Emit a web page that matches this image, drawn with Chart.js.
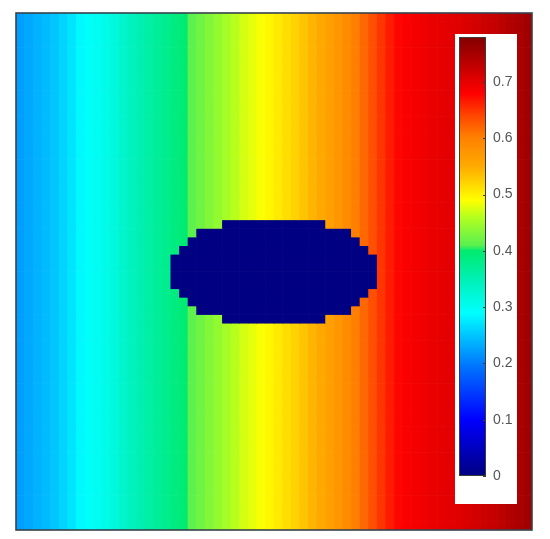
<!DOCTYPE html>
<html>
<head>
<meta charset="utf-8">
<script src="https://cdn.jsdelivr.net/npm/chart.js@4.4.0/dist/chart.umd.min.js"></script>
<style>
  html, body { margin: 0; padding: 0; background: #fff; }
  #wrap { position: relative; width: 550px; height: 539px; }
  #field { position: absolute; left: 0; top: 0; }
  #cbar { position: absolute; left: 455px; top: 34px; background: #fff; }
</style>
</head>
<body>
<div id="wrap">
  <canvas id="field" width="550" height="539"></canvas>
  <canvas id="cbar" width="62" height="470"></canvas>
</div>
<script>
// value of each column (left -> right)
const colValues = [
  0.224, 0.230, 0.237, 0.243, 0.250, 0.260, 0.272, 0.285, 0.293, 0.300,
  0.308, 0.318, 0.330, 0.341, 0.352, 0.361, 0.370, 0.378, 0.387, 0.396,
  0.412, 0.422, 0.432, 0.442, 0.452, 0.462, 0.472, 0.480, 0.488, 0.496,
  0.505, 0.514, 0.522, 0.532, 0.542, 0.552, 0.563, 0.575, 0.588, 0.602,
  0.618, 0.634, 0.650, 0.665, 0.677, 0.684, 0.688, 0.692, 0.696, 0.699,
  0.702, 0.706, 0.710, 0.715, 0.720, 0.726, 0.733, 0.741, 0.748, 0.755
];
const rowCount = 60;

// zero-valued blob: row index -> [first column, last column]
const holeRows = [24, 25, 26, 27, 28, 29, 30, 31, 32, 33, 34, 35];
const holeStart = [24, 21, 20, 19, 18, 18, 18, 18, 19, 20, 21, 24];
const holeEnd   = [35, 38, 39, 40, 41, 41, 41, 41, 40, 39, 38, 35];

// colour scale
const cbMax = 0.78;
const cbTicks = [0, 0.1, 0.2, 0.3, 0.4, 0.5, 0.6, 0.7];
const cbTickLabels = ['0', '0.1', '0.2', '0.3', '0.4', '0.5', '0.6', '0.7'];
const cmapValues = [0, 0.10, 0.19, 0.29, 0.35, 0.40, 0.41, 0.46, 0.49, 0.55, 0.60, 0.64, 0.68, 0.78];
const cmapColors = [
  [0, 0, 130], [0, 0, 255], [0, 110, 255], [0, 255, 255], [0, 240, 180], [0, 235, 110],
  [90, 240, 80], [180, 255, 30], [255, 255, 0], [255, 170, 0], [255, 130, 0], [255, 70, 0],
  [255, 0, 0], [130, 0, 0]
];

function rgb(c) { return 'rgb(' + c.map(Math.round).join(',') + ')'; }

function colorFor(v) {
  if (v <= cmapValues[0]) return rgb(cmapColors[0]);
  for (let i = 1; i < cmapValues.length; i++) {
    if (v <= cmapValues[i]) {
      const t = (v - cmapValues[i - 1]) / (cmapValues[i] - cmapValues[i - 1]);
      const a = cmapColors[i - 1], b = cmapColors[i];
      return rgb([a[0] + (b[0] - a[0]) * t, a[1] + (b[1] - a[1]) * t, a[2] + (b[2] - a[2]) * t]);
    }
  }
  return rgb(cmapColors[cmapColors.length - 1]);
}

function cellValue(row, col) {
  const k = holeRows.indexOf(row);
  if (k >= 0 && col >= holeStart[k] && col <= holeEnd[k]) return 0;
  return colValues[col];
}

// one stacked dataset per row of cells
const datasets = [];
for (let r = 0; r < rowCount; r++) {
  datasets.push({
    data: colValues.map(() => 1),
    backgroundColor: ctx => colorFor(cellValue(ctx.datasetIndex, ctx.dataIndex)),
    borderWidth: 0,
    barPercentage: 1,
    categoryPercentage: 1
  });
}

const frame = {
  id: 'frame',
  afterDraw(chart) {
    const a = chart.chartArea, c = chart.ctx;
    c.save();
    c.strokeStyle = '#36424c';
    c.lineWidth = 1.6;
    c.strokeRect(a.left, a.top, a.right - a.left, a.bottom - a.top);
    c.restore();
  }
};

new Chart(document.getElementById('field'), {
  type: 'bar',
  data: { labels: colValues.map((v, i) => i), datasets: datasets },
  options: {
    responsive: false,
    animation: false,
    layout: { padding: { left: 16, top: 13, right: 18, bottom: 9 } },
    plugins: { legend: { display: false }, tooltip: { enabled: false } },
    scales: {
      x: { stacked: true, display: false },
      y: { stacked: true, display: false, min: 0, max: rowCount, reverse: true }
    }
  },
  plugins: [frame]
});

const barFrame = {
  id: 'barFrame',
  afterDatasetsDraw(chart) {
    const a = chart.chartArea, c = chart.ctx, ys = chart.scales.y;
    c.save();
    c.strokeStyle = '#3c3c3c';
    c.lineWidth = 1;
    c.strokeRect(a.left + 0.5, a.top + 0.5, a.right - a.left - 1, a.bottom - a.top - 1);
    c.beginPath();
    cbTicks.forEach(v => {
      const y = Math.round(ys.getPixelForValue(v)) + 0.5;
      c.moveTo(a.right - 3, y);
      c.lineTo(a.right, y);
    });
    c.stroke();
    c.restore();
  }
};

new Chart(document.getElementById('cbar'), {
  type: 'bar',
  data: {
    labels: [''],
    datasets: [{
      data: [[0, cbMax]],
      backgroundColor: ctx => {
        const chart = ctx.chart;
        if (!chart.chartArea) return null;
        const ys = chart.scales.y;
        const g = chart.ctx.createLinearGradient(0, ys.getPixelForValue(0), 0, ys.getPixelForValue(cbMax));
        cmapValues.forEach((v, i) => g.addColorStop(v / cbMax, rgb(cmapColors[i])));
        return g;
      },
      borderWidth: 0,
      barPercentage: 1,
      categoryPercentage: 1
    }]
  },
  options: {
    responsive: false,
    animation: false,
    layout: { padding: { left: 4, top: 3, right: 0, bottom: 28 } },
    plugins: { legend: { display: false }, tooltip: { enabled: false } },
    scales: {
      x: { display: false },
      y: {
        position: 'right',
        min: 0,
        max: cbMax,
        afterFit: s => { s.width = 31; s.paddingTop = 0; s.paddingBottom = 0; },
        afterBuildTicks: s => { s.ticks = cbTicks.map(v => ({ value: v })); },
        grid: { display: false, drawTicks: false },
        border: { display: false },
        ticks: {
          padding: 7,
          color: '#555',
          font: { size: 14, family: 'Liberation Sans, Arial, sans-serif' },
          callback: (v, i) => cbTickLabels[i]
        }
      }
    }
  },
  plugins: [barFrame]
});
</script>
</body>
</html>
